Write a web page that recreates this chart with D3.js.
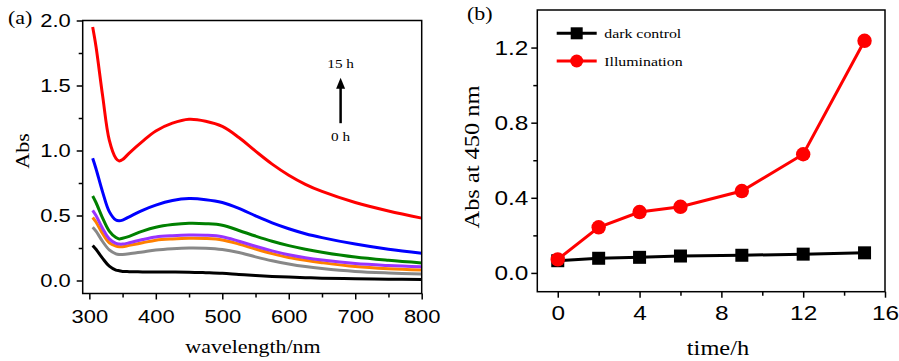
<!DOCTYPE html>
<html>
<head>
<meta charset="utf-8">
<script src="https://cdn.jsdelivr.net/npm/d3@7"></script>
<style>
  html, body { margin: 0; padding: 0; background: #fff; }
  svg { display: block; font-family: "Liberation Serif", "Times New Roman", serif; }
</style>
</head>
<body>
<svg id="chart"></svg>
<script>
// panel (a): UV-vis spectra after 0..15 h of illumination
const wavelengths = [305, 310, 320, 330, 340, 345, 350, 360, 380, 400, 425, 450, 475, 500, 525, 550, 575, 600, 625, 650, 700, 750, 800];
const abs0h  = [0.27, 0.24, 0.17, 0.11, 0.08, 0.075, 0.07, 0.068, 0.066, 0.065, 0.065, 0.064, 0.06, 0.055, 0.046, 0.038, 0.031, 0.026, 0.022, 0.018, 0.013, 0.01, 0.007];
const abs2h  = [0.41, 0.38, 0.30, 0.235, 0.205, 0.20, 0.20, 0.205, 0.22, 0.235, 0.245, 0.25, 0.248, 0.238, 0.215, 0.182, 0.152, 0.127, 0.107, 0.092, 0.07, 0.058, 0.05];
const abs4h  = [0.485, 0.45, 0.36, 0.29, 0.265, 0.26, 0.26, 0.27, 0.29, 0.31, 0.32, 0.325, 0.323, 0.312, 0.28, 0.242, 0.207, 0.177, 0.155, 0.137, 0.107, 0.09, 0.08];
const abs6h  = [0.54, 0.50, 0.40, 0.32, 0.285, 0.28, 0.28, 0.29, 0.315, 0.335, 0.345, 0.35, 0.348, 0.337, 0.302, 0.263, 0.228, 0.198, 0.175, 0.157, 0.13, 0.115, 0.105];
const abs9h  = [0.65, 0.60, 0.48, 0.38, 0.33, 0.32, 0.325, 0.34, 0.38, 0.41, 0.43, 0.44, 0.437, 0.425, 0.385, 0.342, 0.302, 0.268, 0.24, 0.217, 0.18, 0.155, 0.135];
const abs12h = [0.94, 0.86, 0.68, 0.53, 0.465, 0.46, 0.465, 0.49, 0.54, 0.58, 0.615, 0.63, 0.622, 0.60, 0.555, 0.497, 0.443, 0.398, 0.36, 0.33, 0.28, 0.24, 0.21];
const abs15h = [1.95, 1.80, 1.42, 1.08, 0.94, 0.92, 0.93, 0.98, 1.07, 1.15, 1.21, 1.24, 1.225, 1.185, 1.10, 0.995, 0.895, 0.81, 0.74, 0.685, 0.60, 0.535, 0.48];
const spectra = [abs0h, abs2h, abs4h, abs6h, abs9h, abs12h, abs15h];
const spectraColors = ["#000000", "#888888", "#ff8000", "#9933ff", "#008000", "#0000ff", "#ff0000"];

const waveTicks = [300, 400, 500, 600, 700, 800];
const waveMinor = [350, 450, 550, 650, 750];
const absTicksA = [0, 0.5, 1.0, 1.5, 2.0];
const absMinorA = [0.25, 0.75, 1.25, 1.75];

// arrow annotation (data units)
const arrowWave = 678;
const arrowFrom = 1.21, arrowTo = 1.56;
const arrowLabels = ["15 h", "0 h"];

// panel (b): absorbance at 450 nm vs time
const times = [0, 2, 4, 6, 9, 12, 15];
const darkControl = [0.065, 0.078, 0.083, 0.09, 0.094, 0.10, 0.107];
const illumination = [0.072, 0.243, 0.324, 0.352, 0.436, 0.632, 1.236];
const seriesNames = ["dark control", "Illumination"];

const timeTicks = [0, 4, 8, 12, 16];
const timeMinor = [2, 6, 10, 14];
const absTicksB = [0, 0.4, 0.8, 1.2];
const absMinorB = [0.2, 0.6, 1.0];

const width = 899, height = 361;
const SX = 1.22; // text in the source is drawn a bit wide

const svg = d3.select("#chart").attr("width", width).attr("height", height);

const xA = d3.scaleLinear([290, 800], [82.7, 421.7]);
const yA = d3.scaleLinear([-0.1, 2.0], [293.5, 20.5]);
const xB = d3.scaleLinear([-1, 16], [537.3, 885]);
const yB = d3.scaleLinear([-0.1, 1.4], [291.7, 10]);

function cleanAxis(g) {
  g.select(".domain").remove();
  g.selectAll("line").attr("stroke", "#000").attr("stroke-width", 1.5);
}

function leftAxis(x, y, ticks, minor, fmt, off, size) {
  const g = svg.append("g").attr("transform", `translate(${x.range()[0]},0)`);
  g.call(d3.axisLeft(y).tickValues(ticks).tickSize(6).tickFormat(fmt)).call(cleanAxis);
  g.selectAll("text")
    .attr("x", null)
    .attr("dy", "0.34em")
    .attr("fill", "#000")
    .attr("transform", `translate(${-off},0) scale(${SX},1)`)
    .style("font-size", size + "px")
    .style("font-family", "inherit");
  svg.append("g").attr("transform", `translate(${x.range()[0]},0)`)
    .call(d3.axisLeft(y).tickValues(minor).tickSize(4).tickFormat(""))
    .call(cleanAxis);
}

function bottomAxis(x, y, ticks, minor, fmt, off, size) {
  const g = svg.append("g").attr("transform", `translate(0,${y.range()[0]})`);
  g.call(d3.axisBottom(x).tickValues(ticks).tickSize(6).tickFormat(fmt)).call(cleanAxis);
  g.selectAll("text")
    .attr("y", null)
    .attr("dy", null)
    .attr("fill", "#000")
    .attr("transform", `translate(0,${off}) scale(${SX},1)`)
    .style("font-size", size + "px")
    .style("font-family", "inherit");
  svg.append("g").attr("transform", `translate(0,${y.range()[0]})`)
    .call(d3.axisBottom(x).tickValues(minor).tickSize(4).tickFormat(""))
    .call(cleanAxis);
}

function frame(x, y) {
  svg.append("rect")
    .attr("x", x.range()[0]).attr("y", y.range()[1])
    .attr("width", x.range()[1] - x.range()[0])
    .attr("height", y.range()[0] - y.range()[1])
    .attr("fill", "none").attr("stroke", "#000").attr("stroke-width", 1.5);
}

function label(text, x, y, size, opts = {}) {
  const rot = opts.rotate ? " rotate(-90)" : "";
  svg.append("text")
    .attr("transform", `translate(${x},${y})${rot} scale(${SX},1)`)
    .attr("text-anchor", opts.anchor || "middle")
    .style("font-size", size + "px")
    .text(text);
}

// ---- panel (a)
const lineA = d3.line()
  .x((d, i) => xA(wavelengths[i]))
  .y((d) => yA(d))
  .curve(d3.curveCatmullRom.alpha(0.5));

svg.append("g")
  .selectAll("path")
  .data(spectra)
  .join("path")
  .attr("d", lineA)
  .attr("fill", "none")
  .attr("stroke", (d, i) => spectraColors[i])
  .attr("stroke-width", 3);

frame(xA, yA);
leftAxis(xA, yA, absTicksA, absMinorA, d3.format(".1f"), 12, 18);
bottomAxis(xA, yA, waveTicks, waveMinor, d3.format("d"), 29.5, 18);

label("wavelength/nm", 253, 353, 18);
label("Abs", 29, 151, 18, { rotate: true });
label("(a)", 8, 24, 18, { anchor: "start" });

// arrow 0 h -> 15 h
svg.append("line")
  .attr("x1", xA(arrowWave)).attr("x2", xA(arrowWave))
  .attr("y1", yA(arrowFrom)).attr("y2", yA(arrowTo) + 8)
  .attr("stroke", "#000").attr("stroke-width", 2.5);
svg.append("path")
  .attr("d", `M${xA(arrowWave)},${yA(arrowTo)} l-4.5,11 h9 z`)
  .attr("fill", "#000");
label(arrowLabels[0], xA(arrowWave), yA(arrowTo) - 10, 12.5);
label(arrowLabels[1], xA(arrowWave), yA(arrowFrom) + 18, 12.5);

// ---- panel (b)
const lineB = d3.line()
  .x((d, i) => xB(times[i]))
  .y((d) => yB(d));

const series = [
  { name: seriesNames[0], values: darkControl, color: "#000000", shape: "square" },
  { name: seriesNames[1], values: illumination, color: "#ff0000", shape: "circle" },
];

series.forEach((s) => {
  svg.append("path")
    .attr("d", lineB(s.values))
    .attr("fill", "none")
    .attr("stroke", s.color)
    .attr("stroke-width", 3);
  const pts = svg.append("g").selectAll("g")
    .data(s.values)
    .join("g")
    .attr("transform", (d, i) => `translate(${xB(times[i])},${yB(d)})`);
  if (s.shape === "square") {
    pts.append("rect").attr("x", -6.5).attr("y", -6.5).attr("width", 13).attr("height", 13).attr("fill", s.color);
  } else {
    pts.append("circle").attr("r", 7.2).attr("fill", s.color);
  }
});

frame(xB, yB);
leftAxis(xB, yB, absTicksB, absMinorB, d3.format(".1f"), 9, 20);
bottomAxis(xB, yB, timeTicks, timeMinor, d3.format("d"), 28.5, 20);

label("time/h", 718, 355, 20);
label("Abs at 450 nm", 479, 157, 20, { rotate: true });
label("(b)", 467, 20, 18, { anchor: "start" });

// legend
const legend = svg.append("g").attr("transform", "translate(556.7,33.3)");
series.forEach((s, i) => {
  const g = legend.append("g").attr("transform", `translate(0,${i * 27.7})`);
  g.append("line").attr("x1", 0).attr("x2", 40).attr("stroke", s.color).attr("stroke-width", 3);
  if (s.shape === "square") {
    g.append("rect").attr("x", 14).attr("y", -6).attr("width", 12).attr("height", 12).attr("fill", s.color);
  } else {
    g.append("circle").attr("cx", 20).attr("r", 6.5).attr("fill", s.color);
  }
  g.append("text")
    .attr("transform", `translate(47.5,5) scale(${SX},1)`)
    .style("font-size", "13px")
    .text(s.name);
});
</script>
</body>
</html>
